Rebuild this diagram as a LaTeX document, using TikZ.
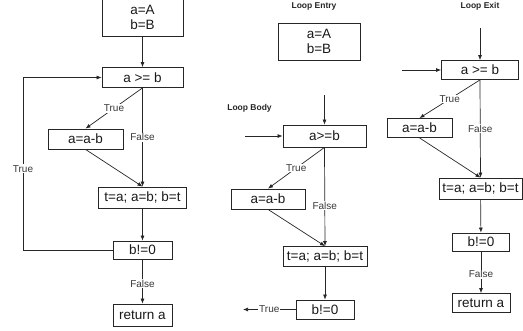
\documentclass[tikz,border=0pt]{standalone}
\usepackage{fontspec}
\setmainfont{Liberation Sans}
\usetikzlibrary{arrows.meta}
\begin{document}
\begin{tikzpicture}[x=1pt,y=-1pt,
  box/.style={draw=black!85, line width=0.8pt, inner sep=0pt, align=center,
    font=\fontsize{13.5}{15}\selectfont, text=black!90},
  lbl/.style={fill=white, inner sep=1pt, font=\fontsize{10}{11}\selectfont, text=black!78},
  head/.style={font=\bfseries\fontsize{8.5}{10}\selectfont, text=black!85},
  arr/.style={draw=black!85, line width=0.7pt, -{Latex[length=5pt,width=4pt]}},
  ln/.style={draw=black!85, line width=0.7pt}]
\useasboundingbox (0,0) rectangle (523,330);

% ---------- left: full CFG ----------
\node[box, minimum width=81pt, minimum height=37pt] (init) at (142.5,17.5) {a=A\\b=B};
\node[box, minimum width=81pt, minimum height=20pt] (cond) at (142.5,77.5) {a >= b};
\node[box, minimum width=75pt, minimum height=20pt] (sub) at (85.5,139) {a=a-b};
\node[box, minimum width=88pt, minimum height=21pt] (swap) at (142.5,197.5) {t=a; a=b; b=t};
\node[box, minimum width=59pt, minimum height=18pt] (test) at (142.5,250) {b!=0};
\node[box, minimum width=59pt, minimum height=22pt] (ret) at (142.5,315) {return a};
\coordinate (lb) at (23,250);
\coordinate (lt) at (23,77.5);

\draw[arr] (init) -- (cond);
\draw[arr] (cond.south) -- node[lbl]{True} (sub.north);
\draw[arr] (cond.south) -- node[lbl]{False} (swap.north);
\draw[arr] (sub.south) -- (swap.north);
\draw[arr] (swap) -- (test);
\draw[arr] (test.west) -- (lb) -- node[lbl, pos=0.47]{True} (lt) -- (cond.west);
\draw[arr] (test) -- node[lbl, pos=0.55]{False} (ret);

% ---------- middle: loop entry / body ----------
\node[head] (hentry) at (314,6) {Loop Entry};
\node[box, minimum width=82pt, minimum height=37pt] (init2) at (319,41.5) {a=A\\b=B};
\node[head] (hbody) at (249.5,108) {Loop Body};
\node[box, minimum width=83pt, minimum height=22pt] (cond2) at (324.5,136) {a>=b};
\node[box, minimum width=74pt, minimum height=20pt] (sub2) at (268,199) {a=a-b};
\node[box, minimum width=84pt, minimum height=20pt] (swap2) at (325,256.5) {t=a; a=b; b=t};
\node[box, minimum width=58pt, minimum height=19pt] (test2) at (325,309.5) {b!=0};
\coordinate (top2) at (324.5,95);
\coordinate (left2) at (245,136);
\coordinate (out2) at (243,309.5);

\draw[arr] (top2) -- (cond2.north);
\draw[arr] (left2) -- (cond2.west);
\draw[arr] (cond2.south) -- node[lbl]{True} (sub2.north);
\draw[arr] (cond2.south) -- node[lbl, pos=0.59]{False} (swap2.north);
\draw[arr] (sub2.south) -- (swap2.north);
\draw[arr] (swap2) -- (test2);
\draw[arr] (test2.west) -- node[lbl]{True} (out2);

% ---------- right: loop exit ----------
\node[head] (hexit) at (480,6) {Loop Exit};
\node[box, minimum width=77pt, minimum height=19pt] (cond3) at (480,70) {a >= b};
\node[box, minimum width=65pt, minimum height=19pt] (sub3) at (419.5,128) {a=a-b};
\node[box, minimum width=83pt, minimum height=21pt] (swap3) at (480.5,188.5) {t=a; a=b; b=t};
\node[box, minimum width=57pt, minimum height=18pt] (test3) at (481,242) {b!=0};
\node[box, minimum width=58pt, minimum height=19pt] (ret3) at (481,303) {return a};
\coordinate (top3) at (480,28);
\coordinate (left3) at (402,70);

\draw[arr] (top3) -- (cond3.north);
\draw[arr] (left3) -- (cond3.west);
\draw[arr] (cond3.south) -- node[lbl]{True} (sub3.north);
\draw[arr] (cond3.south) -- node[lbl]{False} (swap3.north);
\draw[arr] (sub3.south) -- (swap3.north);
\draw[arr] (swap3) -- (test3);
\draw[arr] (test3) -- node[lbl, pos=0.55]{False} (ret3);
\end{tikzpicture}
\end{document}
